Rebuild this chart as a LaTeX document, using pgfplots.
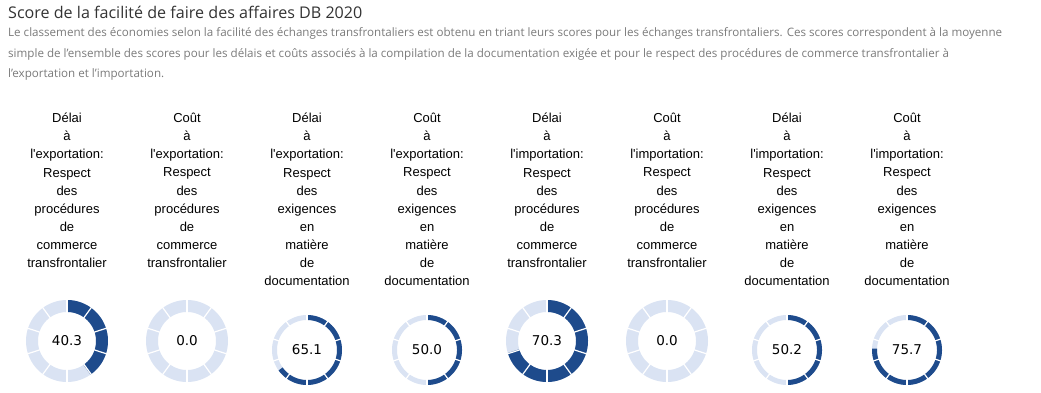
\documentclass[border=0pt]{standalone}
\usepackage{pgfplots}
\pgfplotsset{compat=1.18}
\usepackage{fontspec}
\setmainfont{Liberation Sans}
\newfontfamily\lab{Liberation Sans}
\newfontfamily\osans{Open Sans}
\newfontfamily\dvs{DejaVu Sans}
\definecolor{darkring}{RGB}{30,75,140}
\definecolor{lightring}{RGB}{218,227,243}
\definecolor{titlegray}{RGB}{51,51,51}
\definecolor{subgray}{RGB}{122,122,122}

% cx, cy, radius, line width, value
\newcommand\donut[5]{%
  \addplot[lightring, line width=#4pt, domain=0:360, samples=145, no marks] ({#1+#3*cos(x)},{#2+#3*sin(x)});
  \ifdim #5pt>0pt
  \addplot[darkring, line width=#4pt, domain={90-3.6*#5}:90, samples=100, no marks] ({#1+#3*cos(x)},{#2+#3*sin(x)});
  \fi
  \pgfplotsinvokeforeach{90,54,...,-234}{%
    \addplot[white, line width=1.2pt, domain={#3-#4/2-1}:{#3+#4/2+1}, samples=2, no marks] ({#1+x*cos(##1)},{#2+x*sin(##1)});
  }
  \node[font=\dvs\fontsize{13.5}{16}\selectfont, inner sep=0] at (axis cs:#1,#2) {#5};
}
\newcommand\lbl[2]{%
  \node[anchor=north, align=center, inner sep=0, font=\lab\fontsize{13}{18.1}\selectfont] at (axis cs:#1,280) {#2};
}

\begin{document}
\begin{tikzpicture}
\useasboundingbox (0,0) rectangle (1041pt,393pt);
\begin{axis}[
  at={(0,0)}, anchor=south west,
  scale only axis, width=1041pt, height=393pt,
  xmin=0, xmax=1041, ymin=0, ymax=393,
  hide axis, clip=false,
]
% title and subtitle
\node[anchor=base west, inner sep=0, text=titlegray, font=\osans\fontsize{16.1}{19}\selectfont] at (axis cs:8,374) {Score de la facilité de faire des affaires DB 2020};
\node[anchor=base west, inner sep=0, text=subgray, font=\osans\fontsize{11.6}{14}\selectfont] at (axis cs:8,356) {Le classement des économies selon la facilité des échanges transfrontaliers est obtenu en triant leurs scores pour les échanges transfrontaliers. Ces scores correspondent à la moyenne};
\node[anchor=base west, inner sep=0, text=subgray, font=\osans\fontsize{11.6}{14}\selectfont] at (axis cs:8,335.7) {simple de l’ensemble des scores pour les délais et coûts associés à la compilation de la documentation exigée et pour le respect des procédures de commerce transfrontalier à};
\node[anchor=base west, inner sep=0, text=subgray, font=\osans\fontsize{11.6}{14}\selectfont] at (axis cs:8,315.3) {l’exportation et l’importation.};

% labels
\lbl{67}{Délai\\à\\l'exportation:\\Respect\\des\\procédures\\de\\commerce\\transfrontalier}
\lbl{187}{Coût\\à\\l'exportation:\\Respect\\des\\procédures\\de\\commerce\\transfrontalier}
\lbl{307}{Délai\\à\\l'exportation:\\Respect\\des\\exigences\\en\\matière\\de\\documentation}
\lbl{427}{Coût\\à\\l'exportation:\\Respect\\des\\exigences\\en\\matière\\de\\documentation}
\lbl{547}{Délai\\à\\l'importation:\\Respect\\des\\procédures\\de\\commerce\\transfrontalier}
\lbl{667}{Coût\\à\\l'importation:\\Respect\\des\\procédures\\de\\commerce\\transfrontalier}
\lbl{787}{Délai\\à\\l'importation:\\Respect\\des\\exigences\\en\\matière\\de\\documentation}
\lbl{907}{Coût\\à\\l'importation:\\Respect\\des\\exigences\\en\\matière\\de\\documentation}

% donuts: cx, cy, r, lw, value
\donut{67}{52}{35}{12}{40.3}
\donut{187}{52}{35}{12}{0.0}
\donut{307}{43}{32.5}{5}{65.1}
\donut{427}{43}{32.5}{5}{50.0}
\donut{547}{52}{35}{12}{70.3}
\donut{667}{52}{35}{12}{0.0}
\donut{787}{43}{32.5}{5}{50.2}
\donut{907}{43}{32.5}{5}{75.7}
\end{axis}
\end{tikzpicture}
\end{document}
